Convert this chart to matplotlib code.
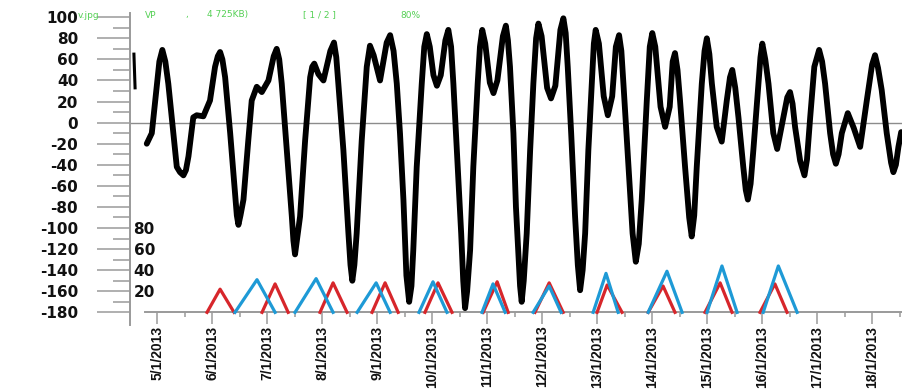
import datetime as dt
import numpy as np
import matplotlib
matplotlib.use("Agg")
import matplotlib.pyplot as plt
import matplotlib.dates as mdates

# ---- data ------------------------------------------------------------
START = dt.datetime(2013, 1, 5)          # hours below are counted from here

# short piece of curve at the very left edge
frag_hours = [-11.3, -10.8]
frag_level = [65, 33]

# tide level curve
level_hours = [-4.5, -2.3, 1.0, 2.3, 3.6, 4.9, 7.1, 8.6, 10.0, 11.5,
               12.6, 13.7, 15.8, 17.3, 20.2, 23.1, 25.3, 26.5, 27.5, 28.5,
               29.7, 31.9, 34.0, 34.8, 35.5, 36.4, 37.7, 39.8, 41.3, 43.5,
               45.7, 48.6, 50.9, 52.2, 53.3, 54.4, 56.6, 58.8, 59.5, 60.2,
               61.0, 62.4, 64.6, 66.8, 67.7, 68.6, 70.4, 72.6, 75.6, 77.2,
               78.2, 79.1, 81.3, 83.5, 84.4, 85.2, 86.1, 87.1, 89.3, 91.5,
               92.9, 94.5, 97.3, 100.2, 101.7, 103.2, 104.6, 106.0, 107.5, 108.8,
               110.0, 111.0, 111.8, 113.3, 115.5, 116.6, 117.7, 119.0, 120.6, 122.1,
               123.8, 125.8, 127.1, 128.3, 129.3, 130.8, 132.7, 133.6, 134.4, 135.3,
               136.6, 138.0, 139.9, 140.9, 141.9, 143.2, 145.2, 146.8, 148.5, 150.9,
               152.2, 153.1, 154.0, 155.5, 156.6, 157.7, 158.4, 159.1, 160.0, 161.3,
               162.8, 164.2, 165.4, 166.4, 167.8, 170.2, 171.9, 173.8, 176.0, 177.3,
               178.3, 179.2, 180.7, 182.4, 183.6, 184.6, 185.7, 186.8, 188.2, 189.7,
               190.6, 191.4, 192.8, 194.9, 196.7, 198.6, 200.2, 201.6, 202.6, 203.5,
               205.7, 207.5, 208.9, 210.2, 211.5, 213.7, 215.0, 216.1, 217.4, 219.7,
               221.7, 223.7, 225.0, 226.0, 227.1, 228.2, 230.4, 232.2, 233.3, 234.4,
               235.5, 237.7, 238.9, 239.9, 241.0, 242.1, 244.2, 246.4, 248.6, 250.0,
               251.0, 252.3, 253.7, 255.8, 256.9, 257.8, 259.0, 260.2, 262.4, 263.3,
               264.1, 265.4, 266.8, 268.9, 270.6, 273.3, 275.0, 276.2, 277.3, 278.4,
               280.6, 282.5, 283.6, 285.0, 286.8, 288.9, 290.2, 291.5, 293.7, 295.0,
               296.2, 297.4, 298.8, 301.4, 304.0, 306.8, 309.7, 312.0, 313.3, 314.6,
               316.2, 318.4, 320.3, 321.3, 322.4, 323.5, 324.7]
level_values = [-20, -10, 58, 69, 58, 37, -10, -42, -47, -50,
                -45, -32, 5, 7, 6, 21, 53, 63, 67, 60,
                43, -10, -67, -88, -97, -88, -73, -17, 21, 34,
                29, 40, 63, 70, 60, 37, -26, -89, -112, -125,
                -112, -89, -17, 43, 53, 56, 46, 40, 68, 76,
                62, 37, -26, -105, -135, -150, -135, -105, -17, 53,
                73, 64, 40, 76, 83, 68, 37, -10, -73, -145,
                -170, -155, -121, -42, 37, 72, 84, 72, 45, 35,
                45, 78, 88, 72, 37, -26, -105, -150, -176, -160,
                -121, -42, 37, 72, 88, 75, 38, 28, 40, 82,
                92, 78, 53, -10, -80, -125, -155, -170, -150, -105,
                -26, 37, 80, 94, 82, 33, 23, 35, 88, 99,
                85, 53, -10, -89, -135, -159, -140, -105, -26, 37,
                75, 88, 75, 25, 7, 25, 72, 83, 68, 37,
                -42, -105, -132, -115, -73, 21, 72, 85, 72, 15,
                -4, 15, 58, 66, 50, 21, -42, -90, -108, -88,
                -42, 37, 68, 80, 65, 37, -4, -18, 21, 43,
                50, 33, 5, -42, -64, -73, -58, -26, 37, 62,
                75, 60, 37, -10, -25, 5, 24, 29, 18, -4,
                -36, -50, -35, 5, 53, 69, 58, 37, -10, -30,
                -39, -30, -10, 9, -5, -23, 21, 55, 64, 52,
                31, -10, -38, -47, -40, -23, -9]

# triangles on the second scale: start hour, peak hour, end hour, peak value
red_start = [21.8, 45.8, 71.1, 93.8, 116.9, 142.3, 164.9, 192.0, 214.3, 239.1, 263.1]
red_top_h = [27.5, 51.5, 76.8, 99.5, 122.6, 148.4, 171.1, 196.4, 220.8, 245.7, 269.6]
red_end = [33.6, 57.2, 82.9, 105.2, 128.7, 153.2, 177.2, 202.9, 226.0, 250.9, 274.9]
red_top = [22, 27, 28, 28, 28, 29, 28, 26, 25, 28, 27]

blue_start = [34.0, 60.2, 87.3, 114.3, 141.8, 164.1, 190.3, 214.3, 240.0, 264.5]
blue_top_h = [43.6, 69.4, 95.6, 120.4, 146.6, 171.1, 195.9, 222.5, 246.5, 271.1]
blue_end = [51.5, 76.8, 101.7, 126.5, 151.9, 176.3, 201.2, 229.1, 253.1, 279.3]
blue_top = [31, 32, 28, 29, 27, 25, 37, 39, 44, 44]

day_labels = ["5/1/2013", "6/1/2013", "7/1/2013", "8/1/2013", "9/1/2013",
              "10/1/2013", "11/1/2013", "12/1/2013", "13/1/2013", "14/1/2013",
              "15/1/2013", "16/1/2013", "17/1/2013", "18/1/2013"]
y_ticks = list(range(-180, 101, 20))
y_labels = ["-180", "-160", "-140", "-120", "-100", "-80", "-60", "-40",
            "-20", "0", "20", "40", "60", "80", "100"]
sec_ticks = [20, 40, 60, 80]
sec_labels = ["20", "40", "60", "80"]

viewer_bits = ["v.jpg", "VP", ",", "4 725KB)", "[ 1 / 2 ]", "80%"]

# ---- helpers ----------------------------------------------------------
t0 = mdates.date2num(START)


def to_num(hours):
    return t0 + np.asarray(hours, dtype=float) / 24.0


def triangles(starts, tops_h, ends, tops):
    xs, ys = [], []
    for s, p, e, v in zip(starts, tops_h, ends, tops):
        xs += [s, p, e, np.nan]
        ys += [0, v, 0, np.nan]
    return to_num(xs), np.array(ys, dtype=float)


# ---- figure -----------------------------------------------------------
GREY = "#9a9a9a"
fig = plt.figure(figsize=(9.03, 3.91), dpi=100)
ax = fig.add_axes([0.144, 0.1688, 0.856, 0.7979])

ax.axhline(0, color="#8c8c8c", lw=1.0, zorder=1)
ax.plot(to_num(frag_hours) + 0.05, frag_level, color="black", lw=2.2, zorder=3)
ax.plot(to_num(level_hours), level_values, color="black", lw=4.2,
        solid_joinstyle="round", solid_capstyle="round", zorder=3)

ax.set_xlim(to_num(-11.8), to_num(325.5))
ax.set_ylim(-192, 104)

for s in ("top", "right"):
    ax.spines[s].set_visible(False)
ax.spines["left"].set_color(GREY)
ax.spines["left"].set_linewidth(1.4)
ax.spines["bottom"].set_position(("data", -180))
ax.spines["bottom"].set_bounds(to_num(-5.2), to_num(325.5))
ax.spines["bottom"].set_color(GREY)
ax.spines["bottom"].set_linewidth(1.4)

# y axis
ax.set_yticks(y_ticks, labels=y_labels, fontsize=11, fontweight="bold",
              color="#111111")
ax.set_yticks(list(range(-170, 100, 20)), minor=True)
ax.tick_params(axis="y", which="major", length=23.8, width=1.1, color=GREY,
               pad=13.5)
ax.tick_params(axis="y", which="minor", length=12.2, width=1.1, color=GREY)

# x axis
day_pos = to_num([24 * i for i in range(len(day_labels))])
ax.set_xticks(day_pos, labels=day_labels, rotation=90, fontsize=10,
              fontweight="bold", color="#111111",
              family=["Liberation Sans", "DejaVu Sans"])
ax.set_xticks(to_num([24 * i + 12 for i in range(len(day_labels))]), minor=True)
ax.tick_params(axis="x", which="major", length=8.6, width=1.1, color=GREY, pad=1)
ax.tick_params(axis="x", which="minor", length=3.6, width=1.1, color=GREY)

# second scale for the triangles
ax2 = ax.twinx()
ax2.set_ylim(-12, 284)
for s in ax2.spines.values():
    s.set_visible(False)
rx, ry = triangles(red_start, red_top_h, red_end, red_top)
bx, by = triangles(blue_start, blue_top_h, blue_end, blue_top)
ax2.plot(rx, ry, color="#d7262b", lw=2.3)
ax2.plot(bx, by, color="#1e9ad6", lw=2.3)
ax2.set_yticks(sec_ticks, labels=sec_labels, ha="left", fontsize=11,
               fontweight="bold", color="#111111")
ax2.tick_params(axis="y", left=True, right=False, labelleft=True,
                labelright=False, length=0, pad=-2.5)
ax2.set_xlim(ax.get_xlim())

# image-viewer caption left in the screenshot
for txt, px in zip(viewer_bits, [78, 145, 185, 207, 303, 400]):
    fig.text(px / 903, 1 - 15 / 391, txt, color="#55d055", fontsize=6.5,
             va="center", ha="left")

fig.savefig("out.png", dpi=100)
